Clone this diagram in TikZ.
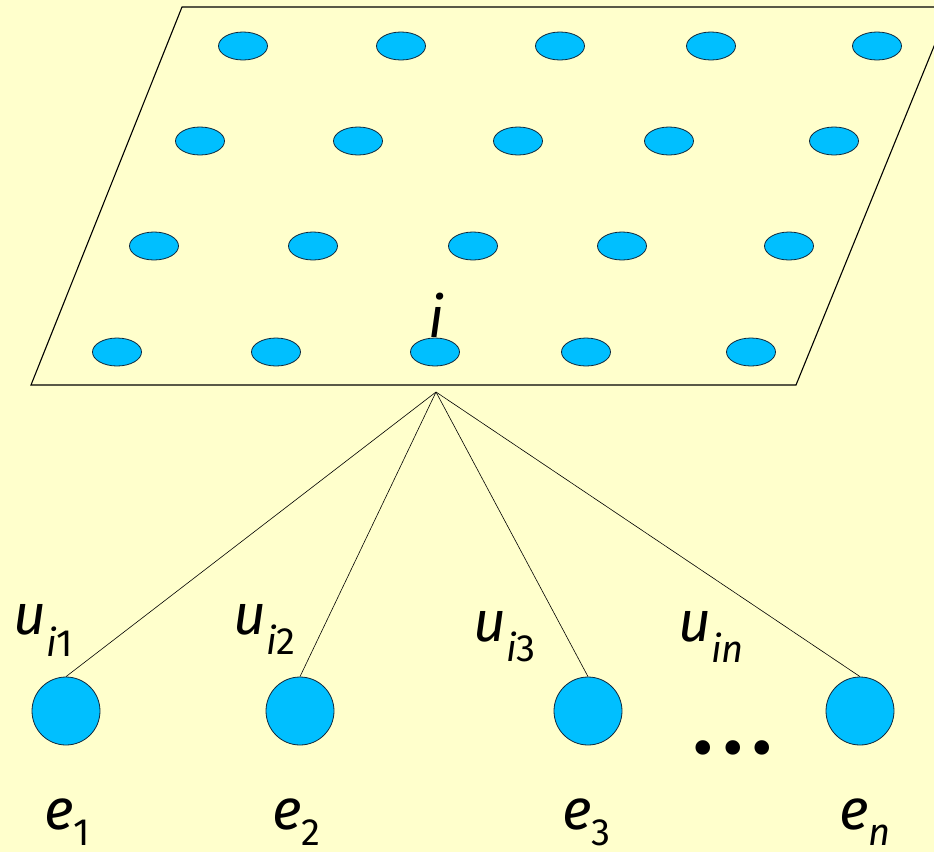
\documentclass[tikz,border=0pt]{standalone}
\usepackage{fontspec}
\usetikzlibrary{shapes.geometric}
\setmainfont{Fira Sans}
\newfontfamily\dotsfont{DejaVu Sans}
\definecolor{bgyellow}{HTML}{FFFFCC}
\definecolor{dotblue}{HTML}{00BFFF}
\definecolor{edgedark}{HTML}{10283C}
\newcommand{\bigf}{\fontsize{57}{60}\selectfont}
\newcommand{\subf}{\fontsize{38}{40}\selectfont}
\begin{document}
\begin{tikzpicture}[x=1pt,y=-1pt,
  site/.style={ellipse,draw=edgedark,fill=dotblue,line width=0.8pt,minimum width=49pt,minimum height=28pt,inner sep=0pt},
  entity/.style={circle,draw=edgedark,fill=dotblue,line width=0.8pt,minimum size=68pt,inner sep=0pt},
  link/.style={draw=black,line width=0.6pt},
  lbl/.style={anchor=base west,inner sep=0pt,font=\bigf}]
\useasboundingbox (0,0) rectangle (934,852);
\fill[bgyellow] (0,0) rectangle (934,852);
\begin{scope}
\clip (0,0) rectangle (934,852);
\draw[line width=1.1pt] (182,7) -- (950,7) -- (796,385) -- (31,385) -- cycle;
\end{scope}
% sites
\foreach \x [count=\k] in {243,401,560,711,877} \node[site] (a\k) at (\x,46) {};
\foreach \x [count=\k] in {200,358,518,669,834} \node[site] (b\k) at (\x,141) {};
\foreach \x [count=\k] in {154,313,473,622,789} \node[site] (c\k) at (\x,246) {};
\foreach \x [count=\k] in {117,276,435,586,751} \node[site] (d\k) at (\x,352) {};
\node[anchor=base,inner sep=0pt,font=\bigf] (ilabel) at (436,337) {\textit{i}};
\coordinate (apex) at (436,392);
% entities
\node[entity] (e1) at (66,711) {};
\node[entity] (e2) at (300,711) {};
\node[entity] (e3) at (588,711) {};
\node[entity] (en) at (860,711) {};
\draw[link] (apex) -- (e1.north);
\draw[link] (apex) -- (e2.north);
\draw[link] (apex) -- (e3.north);
\draw[link] (apex) -- (en.north);
% labels
\node[lbl] (u1) at (13,634) {\textit{u}\lower22pt\hbox{\subf\textit{i}1}};
\node[lbl] (u2) at (233,634) {\textit{u}\lower20pt\hbox{\subf\textit{i}2}};
\node[lbl] (u3) at (473,641) {\textit{u}\lower20pt\hbox{\subf\textit{i}3}};
\node[lbl] (un) at (678,641) {\textit{u}\lower21pt\hbox{\subf\textit{in}}};
\node[lbl] (l1) at (44,829) {\textit{e}\lower16pt\hbox{\subf 1}};
\node[lbl] (l2) at (272,829) {\textit{e}\lower16pt\hbox{\subf 2}};
\node[lbl] (l3) at (562,829) {\textit{e}\lower16pt\hbox{\subf 3}};
\node[lbl] (ln) at (839,829) {\textit{e}\lower16pt\hbox{\subf\textit{n}}};
\node[anchor=base,inner sep=0pt,font=\dotsfont\fontsize{50}{52}\selectfont] (dots) at (733,766) {•••};
\end{tikzpicture}
\end{document}
